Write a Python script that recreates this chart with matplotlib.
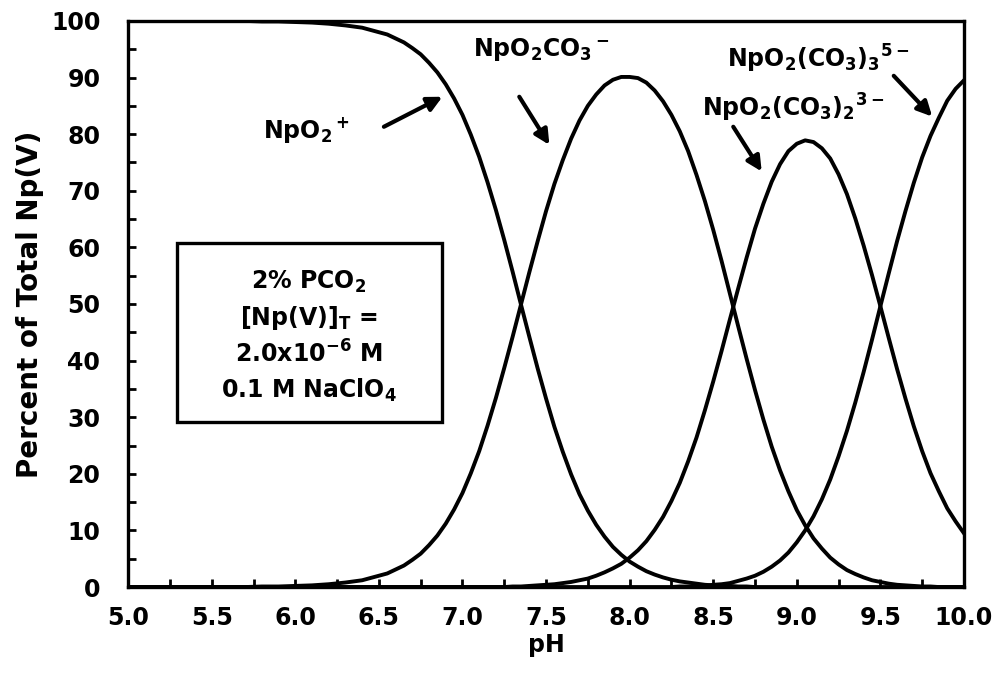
import matplotlib
matplotlib.use("Agg")
import matplotlib.pyplot as plt
from matplotlib.patches import Rectangle
from matplotlib.ticker import MultipleLocator, FormatStrFormatter

plt.rcParams['font.family'] = ['DejaVu Sans']
plt.rcParams['font.weight'] = 'bold'
plt.rcParams['mathtext.fontset'] = 'dejavusans'
plt.rcParams['mathtext.default'] = 'bf'

# pH grid and species percentages
ph = [5.0, 5.1, 5.2, 5.3, 5.4, 5.5, 5.6, 5.7, 5.8, 5.9,
      6.0, 6.1, 6.2, 6.3, 6.4, 6.45,
      6.5, 6.55, 6.6, 6.65, 6.7, 6.75, 6.8, 6.85, 6.9, 6.95,
      7.0, 7.05, 7.1, 7.15, 7.2, 7.25, 7.3, 7.35, 7.4, 7.45,
      7.5, 7.55, 7.6, 7.65, 7.7, 7.75, 7.8, 7.85, 7.9, 7.95,
      8.0, 8.05, 8.1, 8.15, 8.2, 8.25, 8.3, 8.35, 8.4, 8.45,
      8.5, 8.55, 8.6, 8.65, 8.7, 8.75, 8.8, 8.85, 8.9, 8.95,
      9.0, 9.05, 9.1, 9.15, 9.2, 9.25, 9.3, 9.35, 9.4, 9.45,
      9.5, 9.55, 9.6, 9.65, 9.7, 9.75, 9.8, 9.85, 9.9, 9.95, 10.0]

npo2 = [100, 100, 100, 100, 100, 100, 100, 100, 99.9, 99.9,
        99.8, 99.7, 99.5, 99.2, 98.8, 98.4,
        98.0, 97.6, 96.9, 96.2, 95.2, 94.1, 92.6, 90.9, 88.8, 86.3,
        83.4, 79.9, 76.0, 71.5, 66.6, 61.3, 55.7, 49.9, 44.2, 38.6,
        33.3, 28.3, 23.9, 19.9, 16.4, 13.5, 11.0, 8.9, 7.1, 5.7,
        4.5, 3.6, 2.8, 2.2, 1.7, 1.3, 1.0, 0.8, 0.6, 0.4,
        0.3, 0.2, 0.2, 0.1, 0.1, 0, 0, 0, 0, 0,
        0, 0, 0, 0, 0, 0, 0, 0, 0, 0,
        0, 0, 0, 0, 0, 0, 0, 0, 0, 0, 0]

npo2co3 = [0, 0, 0, 0, 0, 0, 0, 0, 0.1, 0.1,
           0.2, 0.3, 0.5, 0.8, 1.2, 1.6,
           2.0, 2.4, 3.1, 3.8, 4.8, 5.9, 7.4, 9.1, 11.2, 13.7,
           16.6, 20.1, 24.0, 28.5, 33.4, 38.7, 44.2, 49.9, 55.6, 61.1,
           66.4, 71.2, 75.4, 79.2, 82.4, 85.0, 87.0, 88.6, 89.6, 90.1,
           90.1, 89.9, 89.1, 87.7, 85.8, 83.4, 80.5, 77.0, 72.8, 68.2,
           63.1, 57.6, 51.8, 46.0, 40.3, 34.8, 29.6, 24.8, 20.6, 16.9,
           13.6, 10.9, 8.6, 6.8, 5.2, 4.0, 3.0, 2.3, 1.7, 1.2,
           0.9, 0.6, 0.4, 0.3, 0.2, 0.1, 0.1, 0, 0, 0, 0]

npo2co3_2 = [0, 0, 0, 0, 0, 0, 0, 0, 0, 0,
             0, 0, 0, 0, 0, 0,
             0, 0, 0, 0, 0, 0, 0, 0, 0, 0,
             0, 0, 0, 0, 0, 0, 0.1, 0.1, 0.2, 0.3,
             0.4, 0.5, 0.7, 0.9, 1.2, 1.5, 2.0, 2.6, 3.3, 4.1,
             5.2, 6.5, 8.1, 10.1, 12.4, 15.2, 18.4, 22.2, 26.4, 31.2,
             36.3, 41.7, 47.3, 52.8, 58.2, 63.3, 67.7, 71.6, 74.7, 77.0,
             78.3, 78.9, 78.6, 77.5, 75.7, 72.9, 69.4, 65.1, 60.3, 55.1,
             49.6, 44.0, 38.5, 33.3, 28.4, 24.0, 20.1, 16.9, 13.9, 11.6, 9.5]

npo2co3_3 = [0, 0, 0, 0, 0, 0, 0, 0, 0, 0,
             0, 0, 0, 0, 0, 0,
             0, 0, 0, 0, 0, 0, 0, 0, 0, 0,
             0, 0, 0, 0, 0, 0, 0, 0, 0, 0,
             0, 0, 0, 0, 0, 0, 0, 0, 0, 0,
             0, 0, 0, 0, 0, 0, 0.1, 0.1, 0.2, 0.2,
             0.4, 0.5, 0.7, 1.1, 1.5, 2.0, 2.7, 3.6, 4.7, 6.1,
             7.9, 10.0, 12.5, 15.5, 19.0, 23.1, 27.6, 32.6, 38.0, 43.7,
             49.6, 55.4, 61.1, 66.4, 71.4, 75.9, 79.7, 82.9, 85.9, 88.0, 89.5]

conditions = [r"2% PCO$_2$", r"[Np(V)]$_\mathrm{T}$ =",
              r"2.0x10$^{-6}$ M", r"0.1 M NaClO$_4$"]

fig = plt.figure(figsize=(10.01, 6.74), dpi=100)
ax = fig.add_axes([0.128, 0.129, 0.835, 0.840])

for series in [npo2, npo2co3, npo2co3_2, npo2co3_3]:
    ax.plot(ph, series, color='black', lw=2.8, solid_joinstyle='round')

ax.set_xlim(5.0, 10.0)
ax.set_ylim(0, 100)
ax.xaxis.set_major_locator(MultipleLocator(0.5))
ax.xaxis.set_minor_locator(MultipleLocator(0.25))
ax.yaxis.set_major_locator(MultipleLocator(10))
ax.yaxis.set_minor_locator(MultipleLocator(5))
ax.xaxis.set_major_formatter(FormatStrFormatter('%.1f'))
ax.tick_params(which='both', direction='in', length=6, width=2,
               top=False, right=False)
ax.tick_params(axis='y', labelsize=17, pad=20)
ax.tick_params(axis='x', labelsize=17, pad=14)
for s in ax.spines.values():
    s.set_linewidth(2.4)

ax.set_xlabel('pH', fontsize=17, fontweight='bold', labelpad=2)
ax.set_ylabel('Percent of Total Np(V)', fontsize=20, fontweight='bold', labelpad=5)

# conditions box
ax.add_patch(Rectangle((5.29, 29.1), 1.59, 31.6, fill=False, lw=2.4,
                       edgecolor='black', zorder=3))
for i, line in enumerate(conditions):
    ax.text(6.08, 53.9 - i * 6.4, line, ha='center', va='center', fontsize=17)

# species labels with arrows
arrow = dict(arrowstyle='-|>', lw=3, color='black', mutation_scale=22,
             shrinkA=0, shrinkB=0)
ax.text(6.07, 80.7, r"NpO$_2$${}^+$", fontsize=17, ha='center', va='center')
ax.annotate("", xy=(6.88, 86.6), xytext=(6.53, 81.3), arrowprops=arrow)
ax.text(7.47, 95.0, r"NpO$_2$CO$_3$${}^-$", fontsize=17, ha='center', va='center')
ax.annotate("", xy=(7.52, 78.1), xytext=(7.34, 86.6), arrowprops=arrow)
ax.text(9.13, 93.2, r"NpO$_2$(CO$_3$)$_3$${}^{5-}$", fontsize=17,
        ha='center', va='center')
ax.annotate("", xy=(9.81, 83.1), xytext=(9.58, 90.3), arrowprops=arrow)
ax.text(8.98, 84.6, r"NpO$_2$(CO$_3$)$_2$${}^{3-}$", fontsize=17,
        ha='center', va='center')
ax.annotate("", xy=(8.79, 73.4), xytext=(8.62, 81.3), arrowprops=arrow)

fig.savefig('out.png', dpi=100)
